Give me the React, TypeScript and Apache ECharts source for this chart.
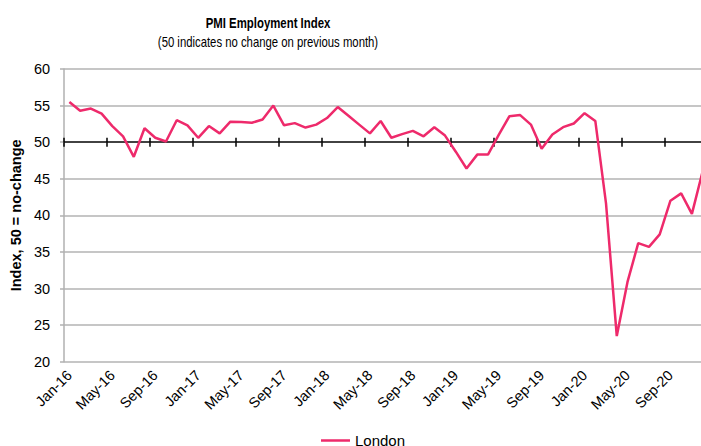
import React, { useEffect, useRef } from "react";
import * as echarts from "echarts";

const years = ["16", "17", "18", "19", "20"];
const monthNames = ["Jan", "Feb", "Mar", "Apr", "May", "Jun", "Jul", "Aug", "Sep", "Oct", "Nov", "Dec"];
const categories: string[] = years.flatMap((y) => monthNames.map((m) => `${m}-${y}`));

const london2016 = [55.5, 54.3, 54.6, 53.9, 52.2, 50.8, 48.0, 51.9, 50.6, 50.1, 53.0, 52.3];
const london2017 = [50.6, 52.2, 51.2, 52.8, 52.75, 52.65, 53.1, 55.0, 52.3, 52.6, 52.0, 52.4];
const london2018 = [53.3, 54.8, 53.6, 52.4, 51.2, 52.9, 50.6, 51.1, 51.55, 50.8, 52.05, 50.9];
const london2019 = [48.7, 46.4, 48.3, 48.3, 51.0, 53.55, 53.7, 52.4, 49.1, 51.05, 52.05, 52.55];
const london2020 = [53.96, 52.9, 41.6, 23.5, 30.9, 36.2, 35.7, 37.4, 42.0, 43.0, 40.2, 46.0];
const londonValues = [...london2016, ...london2017, ...london2018, ...london2019, ...london2020];

const yTicks = { min: 20, max: 60, interval: 5 };

const FONT = "'Liberation Sans', Arial, sans-serif";

export default function App() {
  const ref = useRef<HTMLDivElement>(null);
  useEffect(() => {
    if (!ref.current) return;
    const chart = echarts.init(ref.current, undefined, { renderer: "svg" });
    const axisLineColor = "#3a3a3a";
    chart.setOption({
      animation: false,
      backgroundColor: "#ffffff",
      textStyle: { fontFamily: FONT },
      graphic: [
        {
          type: "text",
          x: 268,
          y: 15,
          scaleX: 0.76,
          style: {
            text: "PMI Employment Index",
            font: `bold 15px ${FONT}`,
            fill: "#000",
            textAlign: "center",
            textVerticalAlign: "top",
          },
        },
        {
          type: "text",
          x: 268,
          y: 35,
          scaleX: 0.81,
          style: {
            text: "(50 indicates no change on previous month)",
            font: `14px ${FONT}`,
            fill: "#000",
            textAlign: "center",
            textVerticalAlign: "top",
          },
        },
      ],
      legend: {
        left: 321,
        top: 433,
        padding: 0,
        icon: "rect",
        itemWidth: 29,
        itemHeight: 2.5,
        itemGap: 10,
        textStyle: { fontSize: 15, color: "#000", fontFamily: FONT },
        data: ["London"],
      },
      grid: { left: 62, top: 69, width: 646, height: 292.7, containLabel: false },
      xAxis: [
        {
          type: "category",
          data: categories,
          boundaryGap: true,
          position: "bottom",
          axisLine: { show: false, onZero: false },
          axisTick: { show: false },
          axisLabel: {
            interval: 3,
            rotate: 45,
            fontSize: 14.5,
            color: "#000",
            margin: 11,
            fontFamily: FONT,
          },
          splitLine: { show: false },
        },
        {
          type: "category",
          data: categories,
          boundaryGap: true,
          axisLine: { show: true, onZero: true, onZeroAxisIndex: 1, lineStyle: { color: axisLineColor, width: 1.5 } },
          axisTick: { show: true, interval: 3, inside: false, length: 4.5, lineStyle: { color: "#000", width: 1.5 } },
          axisLabel: { show: false },
          splitLine: { show: false },
        },
        {
          type: "category",
          data: categories,
          boundaryGap: true,
          axisLine: { show: true, onZero: true, onZeroAxisIndex: 1, lineStyle: { color: axisLineColor, width: 1.5 } },
          axisTick: { show: true, interval: 3, inside: true, length: 4.5, lineStyle: { color: "#000", width: 1.5 } },
          axisLabel: { show: false },
          splitLine: { show: false },
        },
      ],
      yAxis: [
        {
          type: "value",
          min: yTicks.min,
          max: yTicks.max,
          interval: yTicks.interval,
          name: "Index, 50 = no-change",
          nameLocation: "middle",
          nameRotate: 90,
          nameGap: 39,
          nameTextStyle: { fontSize: 14.5, fontWeight: "bold", color: "#000", fontFamily: FONT },
          axisLine: { show: true, onZero: false, lineStyle: { color: "#b0b0b0", width: 1.5 } },
          axisTick: { show: true, length: 4, lineStyle: { color: "#b0b0b0", width: 1.5 } },
          axisLabel: { fontSize: 14.5, color: "#000", margin: 14, fontFamily: FONT },
          splitLine: { show: true, lineStyle: { color: "#b3b3b3", width: 1.5 } },
        },
        {
          type: "value",
          min: -30,
          max: 10,
          show: false,
          splitLine: { show: false },
        },
      ],
      series: [
        {
          name: "London",
          type: "line",
          data: londonValues,
          xAxisIndex: 0,
          yAxisIndex: 0,
          symbol: "none",
          showSymbol: false,
          lineStyle: { color: "#EE2A6B", width: 2.5 },
          itemStyle: { color: "#EE2A6B" },
          z: 5,
        },
      ],
    });
    return () => chart.dispose();
  }, []);
  return (
    <div style={{ position: "fixed", left: 0, top: 0, width: 701, height: 446, overflow: "hidden" }}>
      <div ref={ref} style={{ width: 710, height: 446 }} />
    </div>
  );
}
